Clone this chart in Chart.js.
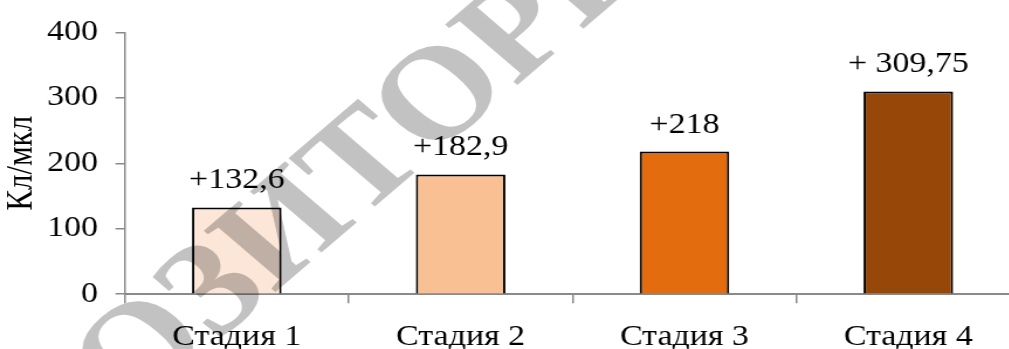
<!DOCTYPE html>
<html lang="ru">
<head>
<meta charset="utf-8">
<title>Кл/мкл по стадиям</title>
<script src="https://cdn.jsdelivr.net/npm/chart.js@4.4.1/dist/chart.umd.min.js"></script>
<style>
  html, body { margin: 0; padding: 0; background: #fff; }
  #wrap { width: 1009px; height: 349px; overflow: hidden; }
  /* the figure is a bit wider than tall in its type, so stretch the canvas horizontally */
  #chart { display: block; transform: scaleX(1.17); transform-origin: 0 0; }
</style>
</head>
<body>
<div id="wrap"><canvas id="chart" width="880" height="379"></canvas></div>
<script>
const stages = ["Стадия 1", "Стадия 2", "Стадия 3", "Стадия 4"];
const values = [132.6, 182.9, 218, 309.75];
const valueLabels = ["+132,6", "+182,9", "+218", "+ 309,75"];
const barColors = ["#FCE6D8", "#F8C093", "#E36C0E", "#974808"];
const yTicks = [0, 100, 200, 300, 400];
const axisTitle = "Кл/мкл";
const watermark = "РЕПОЗИТОРИЙ";

const serif = "'Times New Roman', 'Liberation Serif', serif";
const fontSize = 29;
const axisGray = "#8a8a8a";

// numbers written above each bar
const valueLabelPlugin = {
  id: "valueLabels",
  afterDatasetsDraw(chart) {
    const ctx = chart.ctx;
    const meta = chart.getDatasetMeta(0);
    ctx.save();
    ctx.font = `${fontSize}px ${serif}`;
    ctx.fillStyle = "#000";
    ctx.textAlign = "center";
    ctx.textBaseline = "alphabetic";
    meta.data.forEach((bar, i) => ctx.fillText(valueLabels[i], bar.x, bar.y - 19));
    ctx.restore();
  }
};

// grey diagonal stamp across the left half
const watermarkPlugin = {
  id: "watermark",
  afterDraw(chart) {
    const ctx = chart.ctx;
    ctx.save();
    ctx.globalCompositeOperation = "multiply";
    ctx.fillStyle = "#c2c2c2";
    ctx.font = `bold 132px ${serif}`;
    ctx.translate(257, 222);
    ctx.rotate(-Math.PI / 4);
    ctx.textAlign = "center";
    ctx.textBaseline = "middle";
    ctx.fillText(watermark, 0, 0);
    ctx.restore();
  }
};

new Chart(document.getElementById("chart"), {
  type: "bar",
  data: {
    labels: stages,
    datasets: [{
      data: values,
      backgroundColor: barColors,
      borderColor: "#000",
      borderWidth: 2,
      barPercentage: 0.4,
      categoryPercentage: 1
    }]
  },
  options: {
    responsive: false,
    animation: false,
    layout: { padding: { top: 28, right: 8, bottom: 7, left: 0 } },
    plugins: { legend: { display: false }, tooltip: { enabled: false } },
    scales: {
      x: {
        z: 1,
        grid: { display: true, drawOnChartArea: false, tickLength: 9, color: axisGray, lineWidth: 1.5 },
        border: { display: true, color: axisGray, width: 2 },
        ticks: { color: "#000", padding: 17, font: { family: serif, size: fontSize } }
      },
      y: {
        min: yTicks[0],
        max: yTicks[yTicks.length - 1],
        ticks: {
          stepSize: yTicks[1] - yTicks[0],
          color: "#000",
          padding: 15,
          font: { family: serif, size: fontSize }
        },
        grid: { display: true, drawOnChartArea: false, tickLength: 8, color: axisGray, lineWidth: 1.5 },
        border: { display: true, color: axisGray, width: 1.5 },
        title: {
          display: true,
          text: axisTitle,
          color: "#000",
          padding: { top: 0, bottom: -12 },
          font: { family: serif, size: 31 }
        }
      }
    }
  },
  plugins: [valueLabelPlugin, watermarkPlugin]
});
</script>
</body>
</html>
